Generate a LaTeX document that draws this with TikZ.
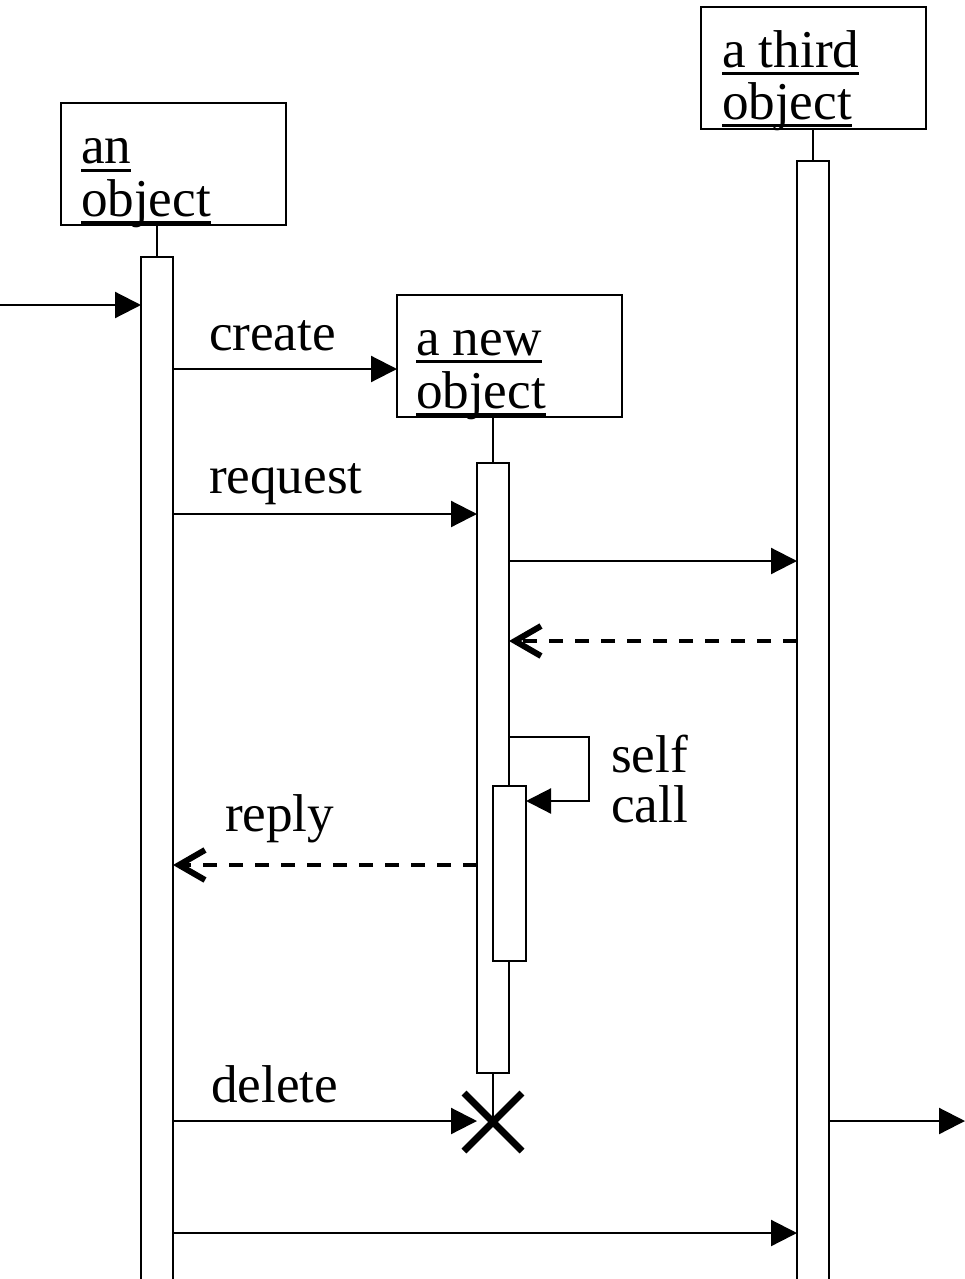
\documentclass[tikz,border=0pt]{standalone}
\usepackage{fontspec}
\setmainfont{Liberation Serif}
\usetikzlibrary{arrows.meta}
\newcommand\myul[1]{\setbox0\hbox{#1}\rlap{\rule[-7.5pt]{\wd0}{3pt}}\box0}
\tikzset{
  every node/.style={font=\fontsize{53.2pt}{52pt}\selectfont, inner sep=0pt, outer sep=0pt},
  objbox/.style={draw, line width=1.8pt, rectangle, minimum width=225pt, minimum height=122pt, anchor=north west},
  actbox/.style={draw, fill=white, line width=1.8pt, rectangle, minimum width=32pt, anchor=north},
  lbl/.style={anchor=base west},
  msg/.style={line width=2.2pt, -{Triangle[length=26pt,width=26pt]}},
  ret/.style={line width=3.6pt, dash pattern=on 14pt off 12pt, -{Straight Barb[length=26pt,width=30pt,line width=6pt 0]}},
  stem/.style={line width=1.8pt},
}
\begin{document}
\begin{tikzpicture}[x=1pt,y=-1pt]
\clip (0,0) rectangle (965,1279);
\fill[white] (0,0) rectangle (965,1279);

% object boxes
\node[objbox] (o1) at (61,103) {};
\node[objbox] (o2) at (397,295) {};
\node[objbox] (o3) at (701,7) {};
\node[lbl] (o1a) at (81,164) {\myul{an}};
\node[lbl] (o1b) at (81,216) {\myul{object}};
\node[lbl] (o2a) at (416,355) {\myul{a new}};
\node[lbl] (o2b) at (416,408) {\myul{object}};
\node[lbl] (o3a) at (722,68) {\myul{a third}};
\node[lbl] (o3b) at (722,120) {\myul{object}};

% activations
\node[actbox, minimum height=1040pt] (act1) at (157,257) {};
\node[actbox, minimum height=610pt] (act2) at (493,463) {};
\node[actbox, minimum height=1130pt] (act3) at (813,161) {};
\node[actbox, minimum width=33pt, minimum height=175pt] (act4) at (509.5,786) {};

% stems
\draw[stem] (act1.north |- o1.south) -- (act1.north);
\draw[stem] (act2.north |- o2.south) -- (act2.north);
\draw[stem] (act3.north |- o3.south) -- (act3.north);

% destruction
\coordinate (xc) at (493,1122);
\draw[stem] (act2.south) -- (xc);
\draw[line width=7pt] ([shift={(-29,-29)}]xc) -- ([shift={(29,29)}]xc);
\draw[line width=7pt] ([shift={(-29,29)}]xc) -- ([shift={(29,-29)}]xc);

% messages
\coordinate (in) at (0,305);
\draw[msg] (in) -- (act1.west |- in);
\draw[msg] (act1.east |- 0,369) -- (o2.west |- 0,369);
\node[lbl] (lcreate) at (209,350) {create};
\draw[msg] (act1.east |- 0,514) -- (act2.west |- 0,514);
\node[lbl] (lrequest) at (209,493) {request};
\draw[msg] (act2.east |- 0,561) -- (act3.west |- 0,561);
\draw[ret] (act3.west |- 0,641) -- (act2.east |- 0,641);
\coordinate (sc1) at (589,737);
\coordinate (sc2) at (589,801);
\draw[line width=2.2pt, -{Triangle[length=25pt,width=25pt]}] (act2.east |- sc1) -- (sc1) -- (sc2) -- (act4.east |- sc2);
\node[lbl] (lself) at (611,772) {self};
\node[lbl] (lcall) at (611,822) {call};
\draw[ret] (act2.west |- 0,865) -- (act1.east |- 0,865);
\node[lbl] (lreply) at (225,831) {reply};
\coordinate (dtip) at (477,1121);
\draw[msg] (act1.east |- dtip) -- (dtip);
\node[lbl] (ldelete) at (211,1102) {delete};
\coordinate (out) at (965,1121);
\draw[msg] (act3.east |- out) -- (out);
\draw[msg] (act1.east |- 0,1233) -- (act3.west |- 0,1233);
\end{tikzpicture}
\end{document}
